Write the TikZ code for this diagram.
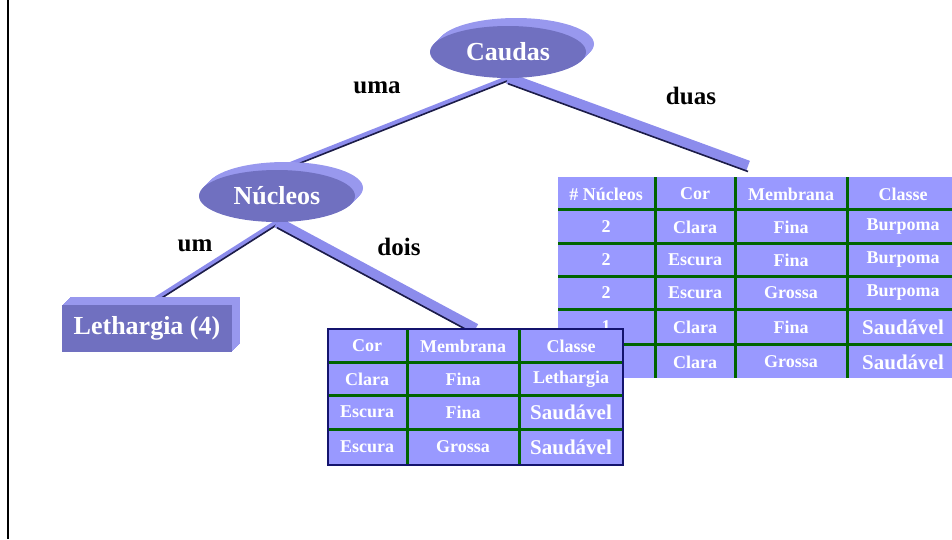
\documentclass[tikz,border=0pt]{standalone}
\usepackage{fontspec}
\setmainfont{Liberation Serif}
\usetikzlibrary{shapes.geometric,shadows,backgrounds}

\definecolor{ellfront}{RGB}{112,112,192}
\definecolor{ellback}{RGB}{152,152,238}
\definecolor{cellblue}{RGB}{153,153,255}
\definecolor{barblue}{RGB}{140,140,236}
\definecolor{bardark}{RGB}{28,28,72}
\definecolor{gridgreen}{RGB}{0,100,0}
\definecolor{tabborder}{RGB}{20,20,110}

\newcommand\nodefont{\fontsize{26}{30}\selectfont\bfseries}
\newcommand\lblfont{\fontsize{25}{29}\selectfont\bfseries}
\newcommand\cellfont{\fontsize{18}{21}\selectfont\bfseries}
\newcommand\bigcell{\fontsize{21}{24}\selectfont}

\tikzset{
  depth/.style={general shadow={shadow xshift=#1, shadow yshift=#1, fill=ellback}},
  extrude/.style={depth=1pt, depth=2pt, depth=3pt, depth=4pt,
    depth=5pt, depth=6pt, depth=7pt, depth=8pt},
  ellnode/.style={ellipse, fill=ellfront, text=white, font=\nodefont,
    minimum width=156pt, minimum height=52pt, inner sep=0pt, extrude},
  boxnode/.style={rectangle, fill=ellfront, text=white, font=\nodefont,
    minimum width=170pt, minimum height=47pt, inner sep=0pt, extrude},
  lbl/.style={font=\lblfont, inner sep=0pt},
  thinbar/.style={barblue, line width=5pt,
    postaction={draw=bardark, line width=1.6pt, transform canvas={yshift=-2.5pt}}},
  widebar/.style={barblue, line width=11pt,
    postaction={draw=bardark, line width=1.6pt, transform canvas={yshift=-5.5pt}}},
  tabfill/.style={fill=cellblue, inner sep=0pt, outer sep=0pt, anchor=north west},
  grid/.style={gridgreen, line width=3pt},
  cell/.style={text=white, font=\cellfont, inner sep=0pt},
}

\begin{document}
\begin{tikzpicture}[x=1pt,y=-1pt]
  \useasboundingbox (0,0) rectangle (952,539);
  \draw[line width=2.6pt] (8,0) -- (8,539);

  % arvore
  \node[ellnode] (caudas) at (508,52) {Caudas};
  \node[ellnode] (nucleos) at (277,196) {Núcleos};
  \node[boxnode] (leth) at (147,328.5) {Lethargia (4)};
  \coordinate (duasend) at (748,166);

  \node[lbl] (luma) at (377,88) {uma};
  \node[lbl] (lduas) at (691,96) {duas};
  \node[lbl] (lum) at (195,246) {um};
  \node[lbl] (ldois) at (399,247) {dois};

  % tabela duas
  \node[tabfill, minimum width=394pt, minimum height=201pt] (tab1) at (558,177) {};
  \foreach \x in {655,735,847}
    \draw[grid] (\x,177) -- (\x,378);
  \foreach \y in {209,243,276,309,344}
    \draw[grid] (558,\y) -- (952,\y);
  \foreach \y/\a/\b/\c/\d [count=\r] in {
      194/\# Núcleos/Cor/Membrana/Classe,
      227/2/Clara/Fina/Burpoma,
      260/2/Escura/Fina/Burpoma,
      293/2/Escura/Grossa/Burpoma,
      327/1/Clara/Fina/{\bigcell Saudável},
      362/{}/Clara/Grossa/{\bigcell Saudável}} {
    \node[cell] (t1-\r-1) at (606,\y) {\a};
    \node[cell] (t1-\r-2) at (695,\y) {\b};
    \node[cell] (t1-\r-3) at (791,\y) {\c};
    \node[cell] (t1-\r-4) at (903,\y) {\d};
  }

  % tabela dois
  \node[tabfill, minimum width=295pt, minimum height=136pt] (tab2) at (328,329) {};
  \foreach \x in {407,519}
    \draw[grid] (\x,329) -- (\x,465);
  \foreach \y in {362,395,429}
    \draw[grid] (328,\y) -- (623,\y);
  \draw[tabborder, line width=1.5pt] (tab2.north west) rectangle (tab2.south east);
  \foreach \y/\a/\b/\c [count=\r] in {
      346/Cor/Membrana/Classe,
      379/Clara/Fina/Lethargia,
      412/Escura/Fina/{\bigcell Saudável},
      447/Escura/Grossa/{\bigcell Saudável}} {
    \node[cell] (t2-\r-1) at (367,\y) {\a};
    \node[cell] (t2-\r-2) at (463,\y) {\b};
    \node[cell] (t2-\r-3) at (571,\y) {\c};
  }

  % arestas
  \begin{scope}[on background layer]
    \draw[thinbar] (caudas.south) -- (nucleos.north);
    \draw[widebar] (caudas.south) -- (duasend);
    \draw[thinbar] (nucleos.south) -- (leth.north);
    \draw[widebar] (nucleos.south) -- (tab2.north);
  \end{scope}
\end{tikzpicture}
\end{document}
